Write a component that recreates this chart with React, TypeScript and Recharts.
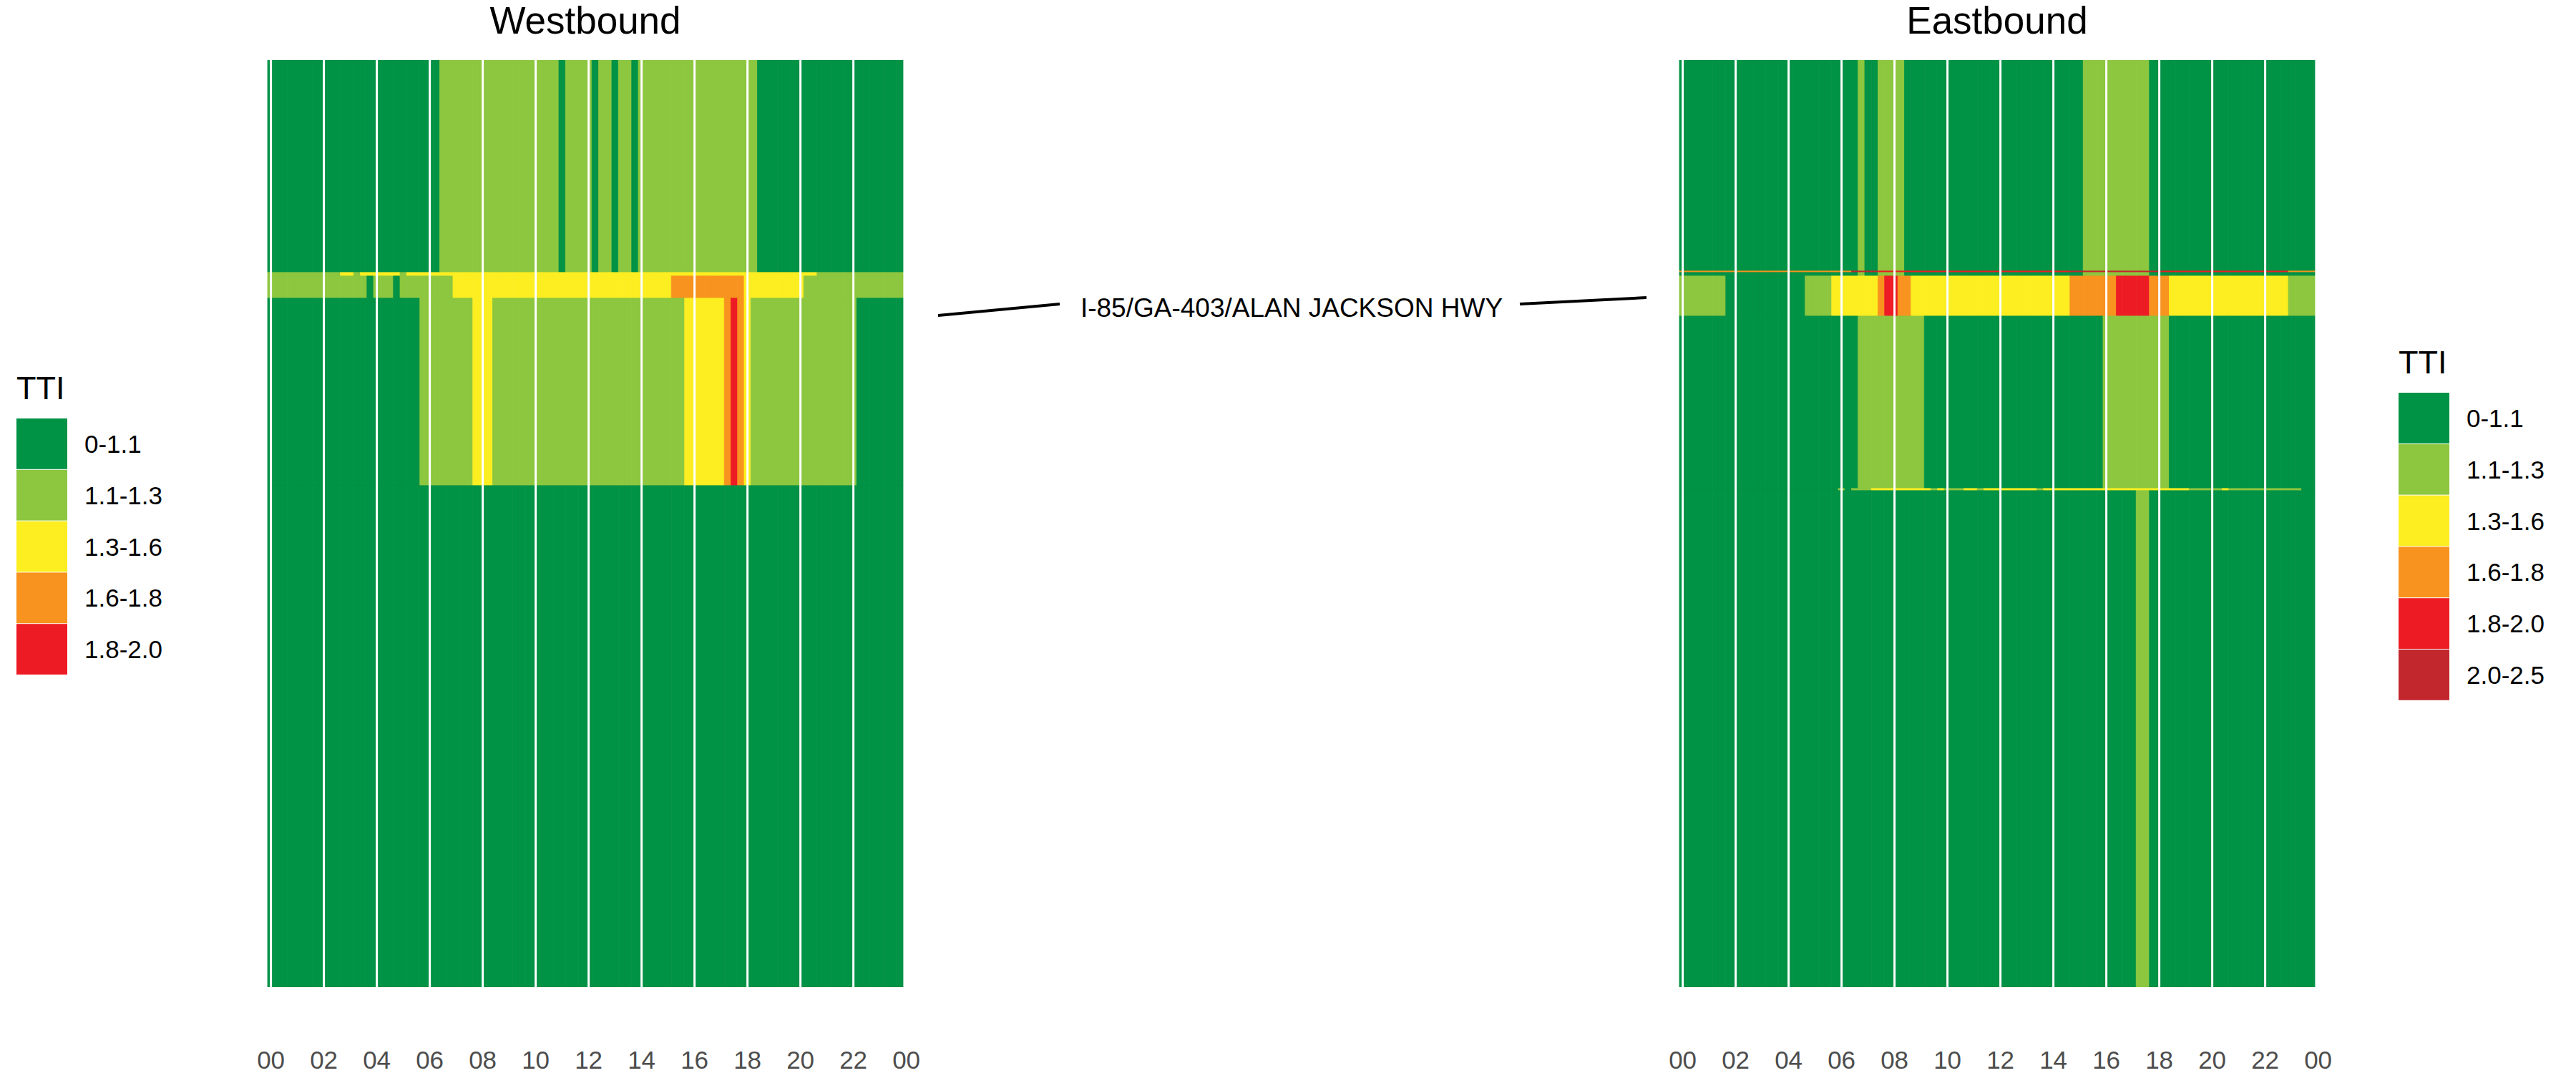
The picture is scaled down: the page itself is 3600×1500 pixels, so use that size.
import React from 'react';
import { BarChart, Bar, Cell, XAxis, YAxis, ReferenceLine } from 'recharts';

// TTI class colours (index = class code used in the row strings)
const TTI_COLORS = ['#009245', '#8DC63F', '#FCEE21', '#F7931E', '#ED1C24', '#C1272D'];
const WB_LEGEND = ['0-1.1', '1.1-1.3', '1.3-1.6', '1.6-1.8', '1.8-2.0'];
const EB_LEGEND = ['0-1.1', '1.1-1.3', '1.3-1.6', '1.6-1.8', '1.8-2.0', '2.0-2.5'];

// x axis: hour ticks (00..22, 00) and white hour grid lines
const HOUR_TICKS = [0, 2, 4, 6, 8, 10, 12, 14, 16, 18, 20, 22, 24];
const GRID_HOURS = [0, 2, 4, 6, 8, 10, 12, 14, 16, 18, 20, 22];

// Westbound segments, top -> bottom: lengths (mi) and TTI class per 15-min bin
// (each group of 4 digits = one hour, 00h ... 23h)
const WB_KEYS = ['wbA', 'wbB', 'wbC', 'wbD', 'wbE'];
const WB_LENGTHS = [2.96, 0.05, 0.31, 2.62, 7.02];
const WB_A = '0000 0000 0000 0000 0000 0000 0011 1111 1111 1111 1111 0111 1011 0110 1111 1111 1111 1111 1100 0000 0000 0000 0000 0000';
const WB_B = '1111 1111 1112 2122 2222 1222 2222 2222 2222 2222 2222 2222 2222 2222 2222 2222 2222 2222 2222 2222 2221 1111 1111 1111';
const WB_C = '1111 1111 1111 1110 1110 1111 1111 2222 2222 2222 2222 2222 2222 2222 2222 2333 3333 3333 2222 2222 2111 1111 1111 1111';
const WB_D = '0000 0000 0000 0000 0000 0001 1111 1112 2211 1111 1111 1111 1111 1111 1111 1112 2222 2343 2111 1111 1111 1111 1000 0000';
const WB_E = '0000 0000 0000 0000 0000 0000 0000 0000 0000 0000 0000 0000 0000 0000 0000 0000 0000 0000 0000 0000 0000 0000 0000 0000';

// Eastbound segments, top -> bottom
const EB_KEYS = ['ebA', 'ebB', 'ebC', 'ebD', 'ebE', 'ebF', 'ebG'];
const EB_LENGTHS = [2.94, 0.02, 0.05, 0.56, 2.41, 0.03, 6.95];
const EB_A = '0000 0000 0000 0000 0000 0000 0001 0011 1100 0000 0000 0000 0000 0000 0000 0111 1111 1110 0000 0000 0000 0000 0000 0000';
const EB_B = '3333 3333 3333 3333 3333 3333 3355 5544 4444 4444 4444 4444 4444 4444 4445 5555 5555 5555 5444 4444 4444 4444 4444 3333';
const EB_C = '0000 0000 0000 0000 0000 0000 0001 0011 1100 0000 0000 0000 0000 0000 0000 0111 1111 1110 0000 0000 0000 0000 0000 0000';
const EB_D = '1111 1110 0000 0000 0001 1112 2222 2234 4332 2222 2222 2222 2222 2222 2223 3333 3344 4443 3322 2222 2222 2222 2222 1111';
const EB_E = '0000 0000 0000 0000 0000 0000 0001 1111 1111 1000 0000 0000 0000 0000 0000 0000 1111 1111 1100 0000 0000 0000 0000 0000';
const EB_F = '0000 0000 0000 0000 0000 0000 1011 1222 2222 2212 1112 2122 2222 2212 2222 2222 2222 2222 2222 2111 1121 1111 1111 1100';
const EB_G = '0000 0000 0000 0000 0000 0000 0000 0000 0000 0000 0000 0000 0000 0000 0000 0000 0000 0110 0000 0000 0000 0000 0000 0000';

const FONT = '"Liberation Sans", Arial, Helvetica, sans-serif';

const parse = (s: string) => s.replace(/\s/g, '').split('').map(Number);

function buildData(keys: string[], lengths: number[], nBins: number) {
  const out: any[] = [];
  for (let i = 0; i < nBins; i++) {
    const row: any = { bin: i, hour: i / 4 };
    keys.forEach((k, j) => (row[k] = lengths[j]));
    out.push(row);
  }
  return out;
}

const fmtHour = (h: number) => String(h % 24).padStart(2, '0');

function Panel({ keys, lengths, rows, width, margin }: any) {
  const codes = rows.map(parse);
  const data = buildData(keys, lengths, codes[0].length);
  const total = lengths.reduce((a: number, b: number) => a + b, 0);
  const order = keys.map((k: string, i: number) => i).reverse(); // bottom segment first
  return (
    <BarChart width={width} height={1500} data={data} margin={margin} barCategoryGap={0} barGap={0} style={{ fontFamily: FONT }}>
      <XAxis xAxisId="cat" dataKey="bin" type="category" hide height={0} />
      <XAxis
        xAxisId="time"
        dataKey="hour"
        type="number"
        domain={[-0.125, 23.875]}
        allowDataOverflow
        ticks={HOUR_TICKS}
        interval={0}
        tickFormatter={fmtHour}
        axisLine={false}
        tickLine={false}
        tickSize={0}
        tickMargin={89}
        height={120}
        tick={{ fill: '#4d4d4d', fontSize: 35, fontFamily: FONT }}
      />
      <YAxis type="number" domain={[0, total]} allowDataOverflow hide />
      {order.map((j: number) => (
        <Bar key={keys[j]} dataKey={keys[j]} xAxisId="cat" stackId="seg" barSize={9.24} isAnimationActive={false}>
          {codes[j].map((c: number, i: number) => (
            <Cell key={i} fill={TTI_COLORS[c]} stroke={TTI_COLORS[c]} strokeWidth={0.8} />
          ))}
        </Bar>
      ))}
      {GRID_HOURS.map((h) => (
        <ReferenceLine key={h} xAxisId="time" x={h} stroke="#ffffff" strokeWidth={3} />
      ))}
    </BarChart>
  );
}

function Legend({ x, y, labels }: { x: number; y: number; labels: string[] }) {
  const keyTop = y + 27;
  return (
    <g>
      <text x={x} y={y} fontSize={45} fill="#000">TTI</text>
      {labels.map((l, i) => (
        <g key={l}>
          <rect x={x} y={keyTop + i * 71.8} width={71} height={70.8} fill={TTI_COLORS[i]} />
          <text x={x + 95} y={keyTop + i * 71.8 + 35.4 + 12.5} fontSize={35} fill="#000">{l}</text>
        </g>
      ))}
    </g>
  );
}

export default function App() {
  return (
    <div style={{ position: 'absolute', left: 0, top: 0, width: 3600, height: 1500, background: '#fff', fontFamily: FONT }}>
      <div style={{ position: 'absolute', left: 0, top: 0 }}>
        <Panel
          keys={WB_KEYS}
          lengths={WB_LENGTHS}
          rows={[WB_A, WB_B, WB_C, WB_D, WB_E]}
          width={1300}
          margin={{ top: 84, left: 374, right: 38, bottom: 0 }}
        />
      </div>
      <div style={{ position: 'absolute', left: 2300, top: 0 }}>
        <Panel
          keys={EB_KEYS}
          lengths={EB_LENGTHS}
          rows={[EB_A, EB_B, EB_C, EB_D, EB_E, EB_F, EB_G]}
          width={1000}
          margin={{ top: 84, left: 47, right: 65, bottom: 0 }}
        />
      </div>
      <svg width={3600} height={1500} style={{ position: 'absolute', left: 0, top: 0, pointerEvents: 'none' }} fontFamily={FONT}>
        <text x={818} y={47} fontSize={53} textAnchor="middle" fill="#000">Westbound</text>
        <text x={2791} y={47} fontSize={53} textAnchor="middle" fill="#000">Eastbound</text>
        <text x={1805} y={443} fontSize={37} textAnchor="middle" fill="#000">I-85/GA-403/ALAN JACKSON HWY</text>
        <line x1={1311} y1={441} x2={1481} y2={425} stroke="#000" strokeWidth={4} />
        <line x1={2124} y1={425} x2={2301} y2={416} stroke="#000" strokeWidth={4} />
        <Legend x={23} y={558} labels={WB_LEGEND} />
        <Legend x={3352} y={522} labels={EB_LEGEND} />
      </svg>
    </div>
  );
}
